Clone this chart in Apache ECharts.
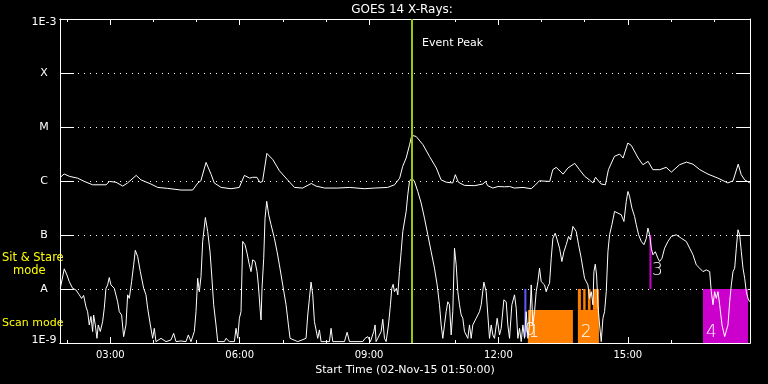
<!DOCTYPE html>
<html><head><meta charset="utf-8">
<script src="https://cdn.jsdelivr.net/npm/echarts@6/dist/echarts.min.js"></script>
<style>html,body{margin:0;padding:0;background:#000}#c{width:768px;height:384px}</style>
</head><body><div id="c"></div>
<script>
// ---- data (time in decimal hours of 02-Nov-2015, flux in W/m^2) ----
var startHour = 1 + 50/60, endHour = 17 + 50/60;
var majorTickHours = [3, 6, 9, 12, 15];
var minorTickHours = [2, 4, 5, 7, 8, 10, 11, 13, 14, 16, 17];
var yTickLabels = ['1E-9', 'A', 'B', 'C', 'M', 'X', '1E-3'];
var eventPeakHour = 9.99;

var longT = [1.84,1.93,2.05,2.24,2.40,2.59,2.90,2.98,3.13,3.29,3.40,3.60,3.71,3.94,4.10,4.33,4.64,4.91,5.03,5.10,5.22,5.34,5.41,5.57,5.80,5.99,6.11,6.23,6.30,6.40,6.47,6.53,6.63,6.77,6.92,7.11,7.27,7.46,7.66,7.77,7.97,8.27,8.55,8.89,9.13,9.43,9.59,9.71,9.78,9.86,9.94,9.99,10.09,10.25,10.40,10.56,10.67,10.79,10.94,11.00,11.07,11.21,11.45,11.64,11.70,11.75,11.87,11.99,12.14,12.26,12.37,12.57,12.76,12.84,12.95,13.19,13.26,13.34,13.50,13.61,13.77,13.88,14.00,14.11,14.19,14.25,14.38,14.48,14.55,14.69,14.81,14.89,15.00,15.08,15.24,15.35,15.47,15.58,15.74,15.89,16.01,16.20,16.36,16.51,16.67,16.86,17.09,17.32,17.44,17.56,17.63,17.71,17.83];
var longFlux = [1.17e-6,1.35e-6,1.22e-6,1.13e-6,9.8e-7,8.5e-7,8.5e-7,9.8e-7,9.5e-7,8.05e-7,9.2e-7,1.27e-6,1.05e-6,8.8e-7,7.6e-7,7.3e-7,6.8e-7,6.8e-7,9.2e-7,1.01e-6,2.21e-6,1.31e-6,9.2e-7,7.6e-7,7.2e-7,7.6e-7,1.27e-6,1.13e-6,1.17e-6,1.17e-6,9.4e-7,9.8e-7,3.25e-6,2.48e-6,1.55e-6,1.05e-6,7.6e-7,7.4e-7,9.0e-7,8.05e-7,7.4e-7,7.4e-7,7.6e-7,7.2e-7,7.4e-7,7.6e-7,8.5e-7,1.13e-6,1.87e-6,2.66e-6,4.7e-6,7.0e-6,6.7e-6,4.7e-6,2.86e-6,1.74e-6,1.05e-6,9.5e-7,9.2e-7,1.31e-6,9.5e-7,8.3e-7,8.2e-7,8.8e-7,9.8e-7,8.2e-7,7.4e-7,7.9e-7,7.8e-7,7.9e-7,7.4e-7,7.6e-7,7.2e-7,8.2e-7,1.01e-6,9.8e-7,1.62e-6,1.79e-6,1.34e-6,1.74e-6,2.12e-6,1.62e-6,1.22e-6,1.05e-6,9.2e-7,1.17e-6,8.8e-7,8.5e-7,1.62e-6,2.86e-6,3.15e-6,2.66e-6,5.05e-6,4.57e-6,2.66e-6,2.0e-6,2.31e-6,1.62e-6,1.62e-6,1.79e-6,1.46e-6,2.0e-6,2.24e-6,2.05e-6,1.62e-6,1.34e-6,1.13e-6,9.2e-7,1.01e-6,2.05e-6,1.31e-6,1.05e-6,9.2e-7];

var shortT = [1.840,1.855,1.932,1.994,2.048,2.126,2.203,2.280,2.334,2.381,2.435,2.474,2.512,2.551,2.590,2.613,2.652,2.690,2.721,2.768,2.822,2.860,2.899,2.938,2.976,3.015,3.092,3.170,3.208,3.262,3.309,3.363,3.402,3.440,3.494,3.541,3.580,3.634,3.696,3.773,3.827,3.866,3.928,3.982,4.020,4.059,4.175,4.291,4.407,4.469,4.523,4.639,4.755,4.809,4.871,4.948,4.987,5.026,5.064,5.103,5.142,5.204,5.258,5.312,5.351,5.397,5.451,5.490,5.644,5.683,5.761,5.877,5.915,5.954,5.993,6.031,6.070,6.124,6.171,6.224,6.263,6.302,6.356,6.402,6.433,6.472,6.495,6.518,6.557,6.588,6.627,6.673,6.727,6.805,6.867,6.921,6.998,7.075,7.130,7.168,7.346,7.539,7.578,7.617,7.655,7.694,7.733,7.771,7.810,7.849,7.887,8.081,8.119,8.158,8.429,8.491,8.545,8.854,8.908,8.970,9.032,9.109,9.140,9.163,9.202,9.280,9.318,9.357,9.396,9.450,9.496,9.527,9.558,9.589,9.635,9.666,9.705,9.744,9.782,9.821,9.860,9.898,9.937,9.991,10.053,10.130,10.208,10.285,10.362,10.440,10.517,10.579,10.633,10.672,10.710,10.749,10.788,10.826,10.865,10.904,10.942,10.981,11.020,11.058,11.097,11.136,11.174,11.213,11.290,11.329,11.368,11.406,11.484,11.561,11.600,11.662,11.716,11.754,11.793,11.832,11.870,11.909,11.971,12.025,12.064,12.126,12.180,12.218,12.257,12.311,12.373,12.412,12.450,12.489,12.528,12.567,12.605,12.644,12.683,12.721,12.760,12.798,12.837,12.876,12.915,12.953,12.992,13.031,13.069,13.108,13.147,13.185,13.224,13.263,13.317,13.363,13.417,13.471,13.518,13.572,13.626,13.673,13.727,13.765,13.804,13.858,13.920,13.997,14.036,14.075,14.113,14.152,14.191,14.214,14.245,14.276,14.307,14.345,14.384,14.423,14.461,14.500,14.539,14.577,14.631,14.693,14.771,14.848,14.910,14.964,15.003,15.041,15.095,15.157,15.196,15.250,15.312,15.374,15.428,15.467,15.506,15.544,15.583,15.637,15.699,15.737,15.792,15.853,15.931,16.008,16.124,16.240,16.356,16.434,16.511,16.588,16.666,16.743,16.820,16.898,16.936,16.975,17.014,17.052,17.091,17.130,17.184,17.246,17.284,17.323,17.362,17.400,17.439,17.478,17.516,17.555,17.594,17.632,17.671,17.710,17.748,17.787,17.826];
var shortFlux = [1.03e-8,9.6e-9,2.36e-8,1.82e-8,1.37e-8,1.03e-8,9.6e-9,7.8e-9,6.7e-9,7.6e-9,4.7e-9,3.8e-9,2.16e-9,3.1e-9,1.63e-9,3.3e-9,2.16e-9,1.22e-9,2.16e-9,1.63e-9,2.49e-9,4.4e-9,1.03e-8,1.19e-8,1.63e-8,1.19e-8,1.03e-8,5.8e-9,3.8e-9,3.3e-9,1.31e-9,2.16e-9,7.8e-9,6.7e-9,1.37e-8,2.8e-8,5.2e-8,4.0e-8,2.1e-8,1.03e-8,7.8e-9,4.4e-9,2.16e-9,1.22e-9,1.87e-9,1.06e-9,1.22e-9,1.06e-9,1.14e-9,1.51e-9,1.06e-9,1.09e-9,1.06e-9,1.41e-9,1.06e-9,1.63e-9,3.8e-9,1.58e-8,8.9e-9,1.70e-8,7.6e-8,2.11e-7,1.16e-7,4.9e-8,1.82e-8,5.1e-9,2.16e-9,1.06e-9,1.06e-9,1.22e-9,1.06e-9,1.06e-9,1.87e-9,1.22e-9,2.87e-9,3.8e-9,7.6e-8,6.6e-8,4.6e-8,2.8e-8,2.1e-8,3.47e-8,3.23e-8,2.1e-8,1.19e-8,4.4e-9,2.67e-9,1.03e-8,3.7e-8,2.05e-7,4.2e-7,2.37e-7,1.55e-7,8.7e-8,4.9e-8,2.8e-8,1.19e-8,5.1e-9,2.16e-9,1.22e-9,1.06e-9,1.22e-9,3.3e-9,6.7e-9,1.34e-8,7.8e-9,2.49e-9,1.75e-9,1.22e-9,1.75e-9,1.06e-9,1.06e-9,1.87e-9,1.06e-9,1.06e-9,1.58e-9,1.06e-9,1.06e-9,1.22e-9,1.31e-9,1.06e-9,1.63e-9,2.16e-9,1.06e-9,1.22e-9,1.63e-9,2.75e-9,1.22e-9,1.06e-9,2.16e-9,5.1e-9,1.03e-8,1.22e-8,8.9e-9,1.03e-8,7.8e-9,2.1e-8,4.9e-8,1.16e-7,1.20e-7,2.73e-7,5.6e-7,9.8e-7,1.13e-6,9.8e-7,6.4e-7,3.9e-7,2.05e-7,1.01e-7,4.9e-8,2.43e-8,1.19e-8,5.1e-9,2.16e-9,1.22e-9,2.16e-9,3.8e-9,5.8e-9,5.1e-9,1.41e-9,3.8e-9,5.7e-8,2.8e-8,8.9e-9,5.1e-9,3.3e-9,2.87e-9,1.63e-9,1.22e-9,2.16e-9,1.22e-9,2.16e-9,2.87e-9,3.8e-9,5.1e-9,1.34e-8,8.9e-9,3.3e-9,1.22e-9,2.16e-9,1.41e-9,1.22e-9,2.87e-9,1.41e-9,1.87e-9,6.3e-9,5.8e-9,2.16e-9,1.22e-9,5.1e-9,7.8e-9,4.4e-9,1.22e-9,1.87e-9,1.06e-9,2.16e-9,1.22e-9,3.8e-9,1.22e-9,2.16e-9,1.19e-8,2.16e-9,3.8e-9,8.9e-9,1.37e-8,2.43e-8,1.37e-8,1.48e-8,1.19e-8,8.9e-9,1.11e-8,1.28e-8,3.7e-8,8.7e-8,1.08e-7,8.1e-8,5.7e-8,3.23e-8,4.9e-8,6.6e-8,9.4e-8,8.1e-8,1.44e-7,1.55e-7,1.16e-7,6.6e-8,3.7e-8,1.58e-8,1.37e-8,1.19e-8,6.7e-9,8.9e-9,5.1e-9,2.1e-8,2.88e-8,1.82e-8,5.1e-9,2.16e-9,1.06e-9,2.87e-9,3.8e-9,8.9e-9,4.9e-8,1.01e-7,1.55e-7,2.73e-7,2.54e-7,2.37e-7,1.78e-7,4.2e-7,6.4e-7,5.2e-7,3.15e-7,2.2e-7,1.55e-7,1.01e-7,7.6e-8,6.6e-8,8.7e-8,1.34e-7,1.01e-7,5.7e-8,4.3e-8,4.9e-8,3.7e-8,3.23e-8,3.7e-8,5.7e-8,7.6e-8,9.4e-8,1.01e-7,8.7e-8,7.6e-8,5.7e-8,4.3e-8,2.8e-8,2.43e-8,2.1e-8,2.26e-8,2.1e-8,8.9e-9,5.1e-9,8.9e-9,6.7e-9,8.9e-9,5.1e-9,2.16e-9,1.31e-9,1.41e-9,2.16e-9,5.8e-9,1.19e-8,2.1e-8,2.43e-8,5.7e-8,1.25e-7,1.01e-7,4.9e-8,2.43e-8,1.58e-8,8.9e-9,6.7e-9,5.8e-9];

// observation intervals (start/end hour, flux range, label, group)
var obsStart = [12.601, 12.683, 13.842, 13.842, 13.965, 14.074, 14.190, 15.502, 16.742];
var obsEnd   = [12.648, 13.727, 14.330, 13.912, 14.021, 14.137, 14.330, 15.548, 17.787];
var obsLow   = [1.3e-9, 1e-9,   1e-9,   4.1e-9, 4.1e-9, 4.1e-9, 4.1e-9, 1e-8,   1e-9];
var obsHigh  = [1e-8,   4.1e-9, 4.1e-9, 1e-8,   1e-8,   1e-8,   1e-8,   1e-7,   1e-8];
var obsLabel = ['0', '1', '2', '', '', '', '', '3', '4'];
var obsGroup = ['a', 'b', 'b', 'b', 'b', 'b', 'b', 'c', 'c'];

// ---- chart ----
var FONT = '"DejaVu Sans", sans-serif';
var groupColor = {a: '#5a5aff', b: '#ff8000', c: '#cc00cc'};
function zip(a, b) { return a.map(function (v, i) { return [v, b[i]]; }); }
function hh(v) { var h = Math.round(v); return (h < 10 ? '0' : '') + h + ':00'; }

var obsData = obsStart.map(function (s, i) { return [s, obsEnd[i], obsLow[i], obsHigh[i], i]; });

function xAxisDef(pos, ticks, len, labels, name) {
  return {
    type: 'value', position: pos, min: startHour, max: endHour,
    axisLine: {show: true, lineStyle: {color: '#fff', width: 1}},
    axisTick: {show: true, inside: true, length: len, customValues: ticks, lineStyle: {color: '#fff', width: 1}},
    axisLabel: labels ? {show: true, customValues: labels, formatter: hh, color: '#fff', fontFamily: FONT, fontSize: 10, margin: 7} : {show: false},
    splitLine: {show: false},
    name: name || '', nameLocation: 'middle', nameGap: 19,
    nameTextStyle: {color: '#fff', fontFamily: FONT, fontSize: 11}
  };
}
var yLabStyle = {color: '#fff', fontFamily: FONT, fontSize: 11};
function yAxisDef(pos, showLabels) {
  return {
    type: 'log', logBase: 10, position: pos, min: 1e-9, max: 1e-3, interval: 1, splitNumber: 6,
    axisLine: {show: true, lineStyle: {color: '#fff', width: 1}},
    axisTick: {show: true, inside: true, length: 14, lineStyle: {color: '#fff', width: 1}},
    axisLabel: showLabels ? {
      show: true, color: '#fff', fontFamily: FONT, fontSize: 11, align: 'center', margin: 16,
      formatter: function (v) {
        var k = Math.round(Math.log10(v)) + 9, s = yTickLabels[k];
        if (k === yTickLabels.length - 1) return '{t|' + s + '}';
        if (k === 0) return '{b|' + s + '}';
        return s;
      },
      rich: {
        t: Object.assign({padding: [7, 0, 0, 0]}, yLabStyle),
        b: Object.assign({padding: [0, 0, 5, 0]}, yLabStyle)
      }
    } : {show: false},
    splitLine: showLabels ? {show: true, lineStyle: {color: '#fff', width: 1, type: [1, 5]}} : {show: false}
  };
}

var chart = echarts.init(document.getElementById('c'), null, {renderer: 'canvas'});
chart.setOption({
  backgroundColor: '#000',
  animation: false,
  grid: {left: 60, right: 18, top: 19, bottom: 41, containLabel: false},
  xAxis: [
    xAxisDef('bottom', majorTickHours, 6, majorTickHours, 'Start Time (02-Nov-15 01:50:00)'),
    xAxisDef('bottom', minorTickHours, 3, null),
    xAxisDef('top', majorTickHours, 6, null),
    xAxisDef('top', minorTickHours, 3, null)
  ],
  yAxis: [yAxisDef('left', true), yAxisDef('right', false)],
  series: [
    {
      type: 'custom', coordinateSystem: 'cartesian2d', xAxisIndex: 0, yAxisIndex: 0, z: 1,
      encode: {x: [0, 1], y: [2, 3]},
      data: obsData,
      renderItem: function (params, api) {
        var i = api.value(4);
        var p0 = api.coord([api.value(0), api.value(3)]);
        var p1 = api.coord([api.value(1), api.value(2)]);
        var w = Math.max(p1[0] - p0[0], 2);
        var col = groupColor[obsGroup[i]];
        var kids = [{type: 'rect', shape: {x: p0[0], y: p0[1], width: w, height: p1[1] - p0[1]}, style: {fill: col}}];
        var lab = obsLabel[i];
        if (lab) {
          var tx, ty;
          if (lab === '3') { tx = p0[0] + w + 0.5; ty = p1[1] - 10; }
          else if (lab === '0') { tx = p0[0] + 0.5; ty = p1[1] + 2; }
          else if (lab === '1') { tx = p0[0] + 0.5; ty = p1[1] - 2; }
          else { tx = p0[0] + 3; ty = p1[1] - 2; }
          kids.push({type: 'text', x: tx, y: ty, z2: 5,
            style: {text: lab, fill: '#fff', fontFamily: FONT, fontSize: 17, fontWeight: 200, textVerticalAlign: 'bottom', textAlign: 'left'}});
        }
        return {type: 'group', children: kids};
      }
    },
    {
      type: 'line', name: 'long', xAxisIndex: 0, yAxisIndex: 0, z: 3, showSymbol: false, symbol: 'none',
      clip: true, lineStyle: {color: '#fff', width: 1}, data: zip(longT, longFlux)
    },
    {
      type: 'line', name: 'short', xAxisIndex: 0, yAxisIndex: 0, z: 3, showSymbol: false, symbol: 'none',
      clip: true, lineStyle: {color: '#fff', width: 1}, data: zip(shortT, shortFlux)
    },
    {
      type: 'line', name: 'peak', xAxisIndex: 0, yAxisIndex: 0, z: 5, data: [],
      markLine: {silent: true, symbol: ['none', 'none'], label: {show: false},
        lineStyle: {color: '#99cc00', width: 2, type: 'solid'}, data: [{xAxis: eventPeakHour}]}
    }
  ],
  graphic: [
    {type: 'text', x: 402, y: 10, style: {text: 'GOES 14 X-Rays:', fill: '#fff', fontFamily: FONT, fontSize: 12, textAlign: 'center', textVerticalAlign: 'middle'}},
    {type: 'text', x: 422, y: 43, style: {text: 'Event Peak', fill: '#fff', fontFamily: FONT, fontSize: 11, textAlign: 'left', textVerticalAlign: 'middle'}},
    {type: 'text', x: 2, y: 258, style: {text: 'Sit & Stare', fill: '#ffff00', fontFamily: FONT, fontSize: 11.5, textAlign: 'left', textVerticalAlign: 'middle'}},
    {type: 'text', x: 13, y: 271, style: {text: 'mode', fill: '#ffff00', fontFamily: FONT, fontSize: 11.5, textAlign: 'left', textVerticalAlign: 'middle'}},
    {type: 'text', x: 2, y: 323, style: {text: 'Scan mode', fill: '#ffff00', fontFamily: FONT, fontSize: 11, textAlign: 'left', textVerticalAlign: 'middle'}}
  ]
});
</script>
</body></html>
